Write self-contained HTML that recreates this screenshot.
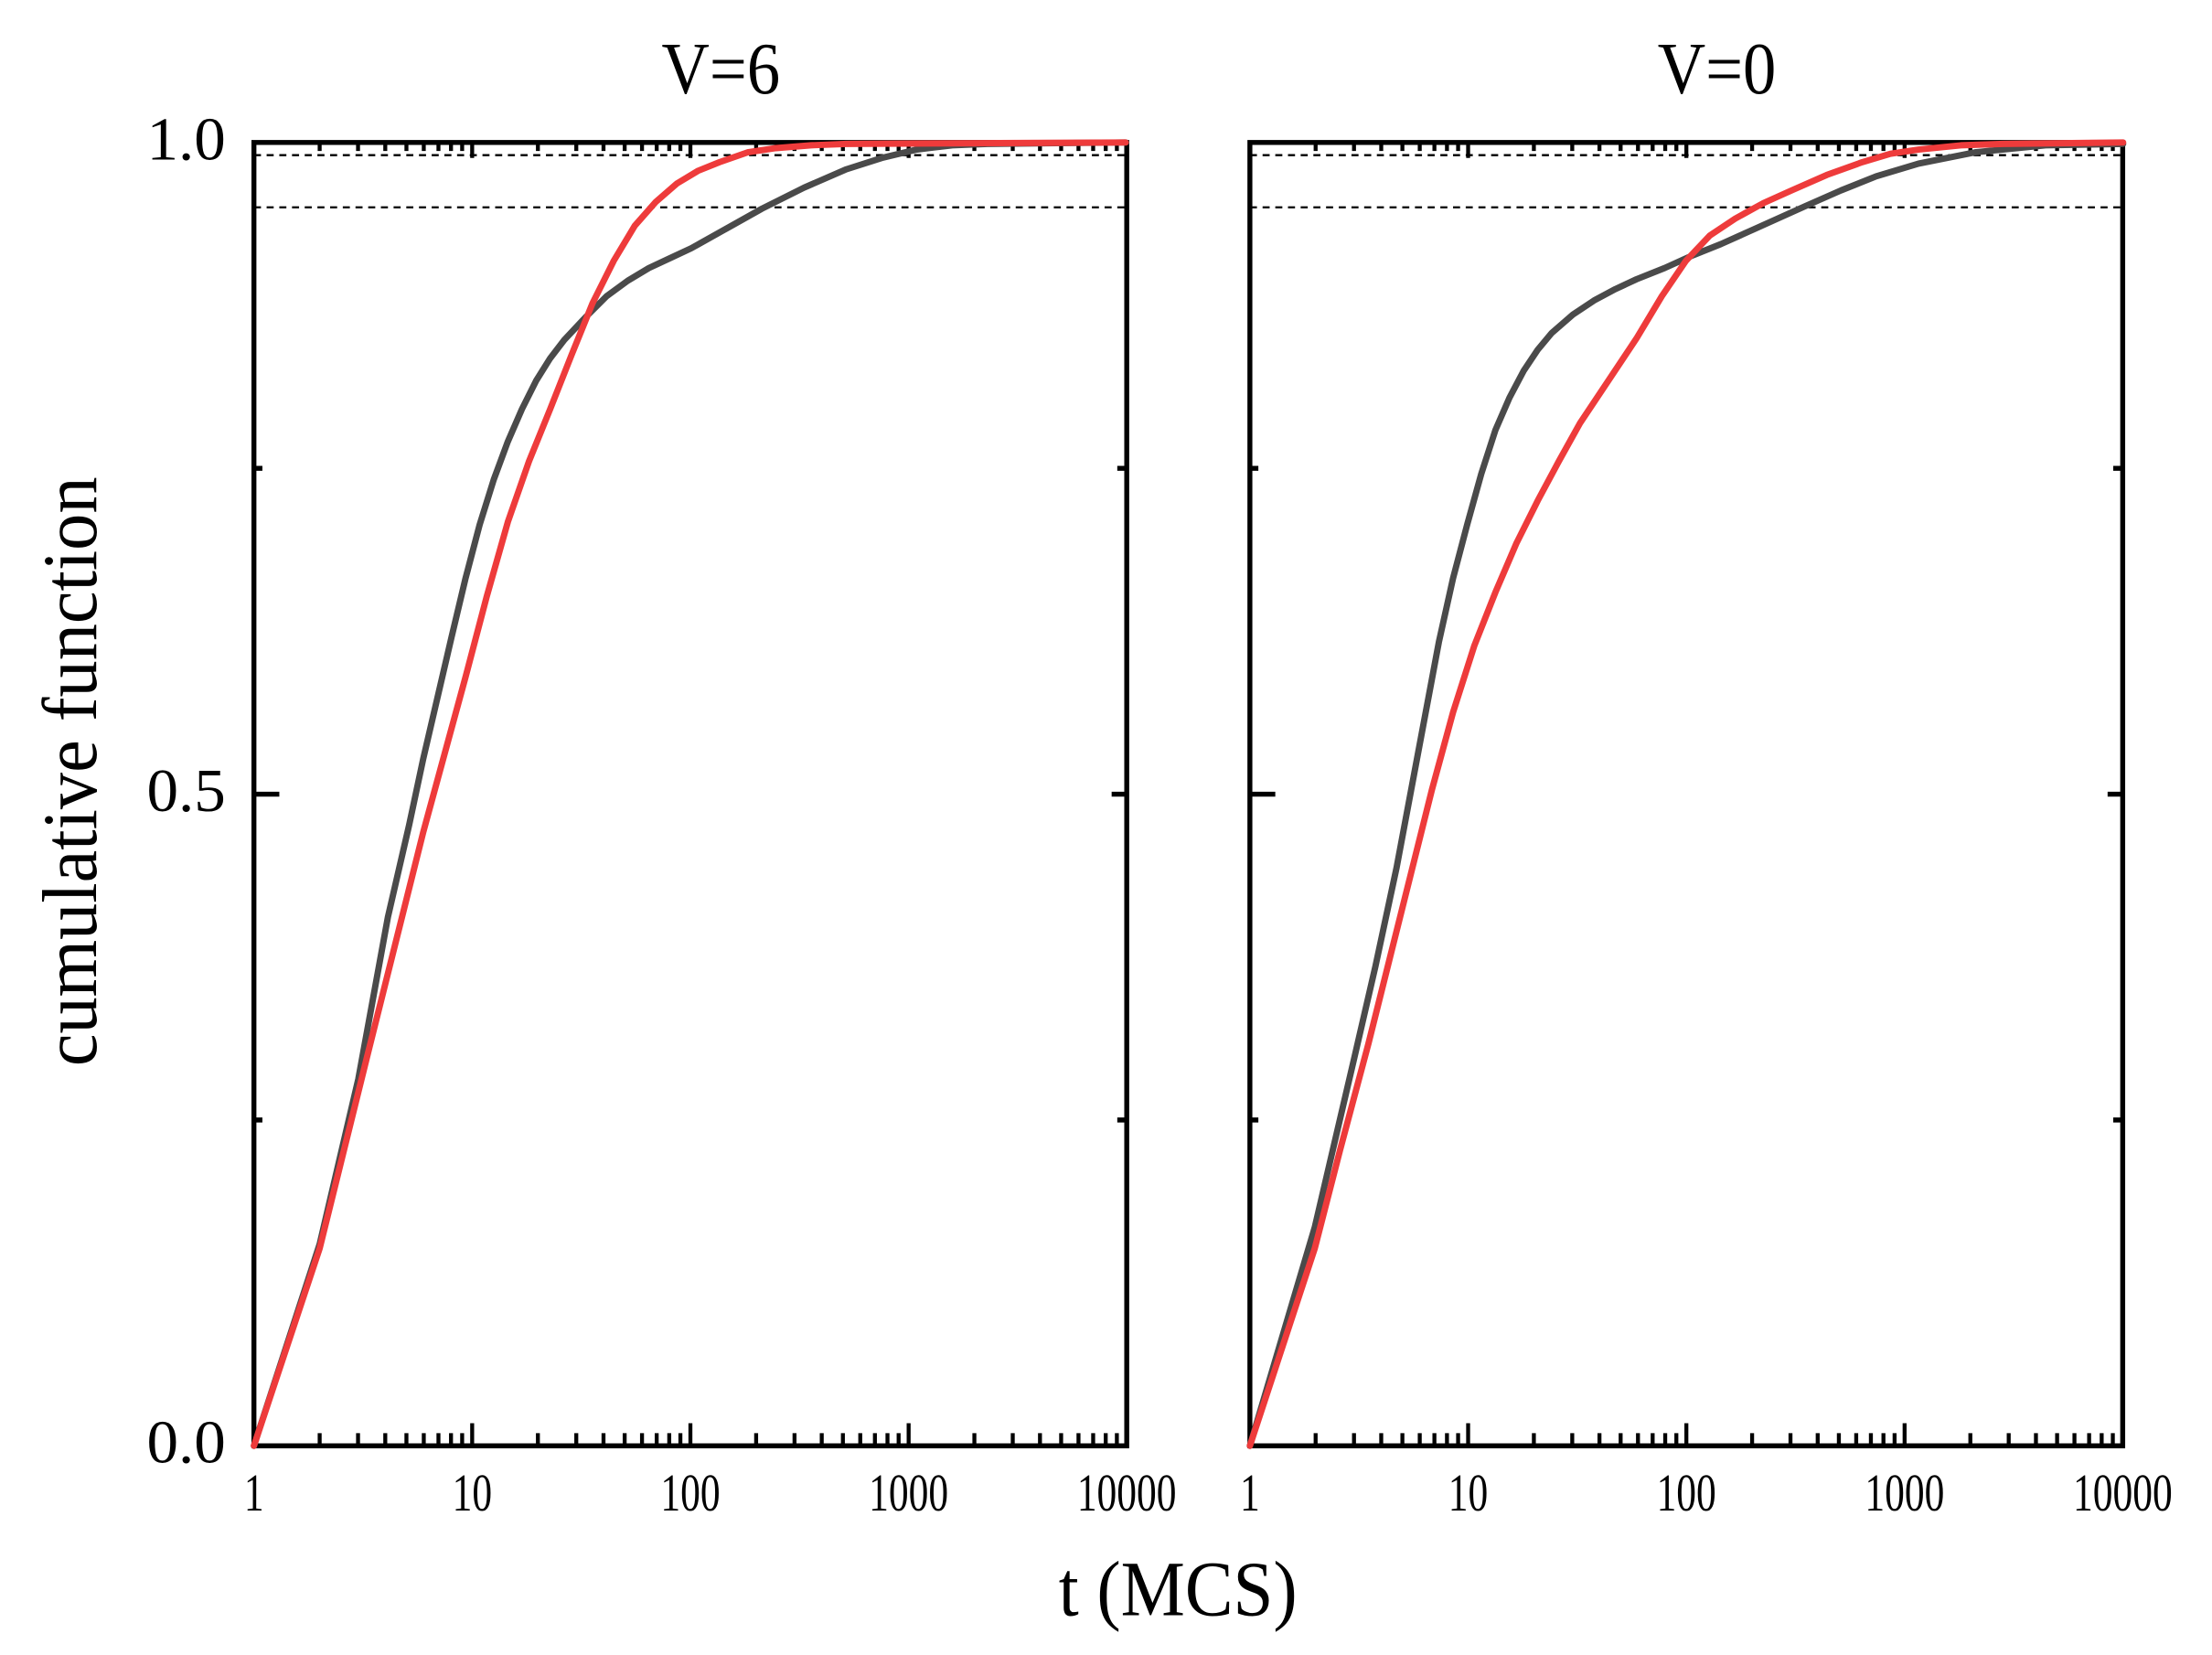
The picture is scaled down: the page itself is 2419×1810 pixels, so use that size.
<!DOCTYPE html>
<html><head><meta charset="utf-8"><style>
html,body{margin:0;padding:0;background:#fff;}
svg{display:block;}
text{font-family:"Liberation Serif",serif;fill:#000;}
</style></head><body>
<svg width="2419" height="1810" viewBox="0 0 1568 1173.3" preserveAspectRatio="none" xmlns="http://www.w3.org/2000/svg">
<defs>
<g id="frame">
  <line x1="0" y1="110" x2="618" y2="110" stroke="#000" stroke-width="1.5" stroke-dasharray="5,4"/>
  <line x1="0" y1="147" x2="618" y2="147" stroke="#000" stroke-width="1.5" stroke-dasharray="5,4"/>
  <g stroke="#000" stroke-width="2.8">
    <path d="M46.6,1025v-9M73.8,1025v-9M93.1,1025v-9M108.1,1025v-9M120.4,1025v-9M130.8,1025v-9M139.7,1025v-9M147.6,1025v-9M154.7,1025v-16
    M201.3,1025v-9M228.5,1025v-9M247.8,1025v-9M262.8,1025v-9M275.1,1025v-9M285.5,1025v-9M294.4,1025v-9M302.3,1025v-9M309.4,1025v-16
    M356,1025v-9M383.2,1025v-9M402.5,1025v-9M417.5,1025v-9M429.8,1025v-9M440.2,1025v-9M449.1,1025v-9M457,1025v-9M464.1,1025v-16
    M510.7,1025v-9M537.9,1025v-9M557.2,1025v-9M572.2,1025v-9M584.5,1025v-9M594.9,1025v-9M603.8,1025v-9M611.7,1025v-9"/>
    <path d="M46.6,101v6M73.8,101v6M93.1,101v6M108.1,101v6M120.4,101v6M130.8,101v6M139.7,101v6M147.6,101v6M154.7,101v11
    M201.3,101v6M228.5,101v6M247.8,101v6M262.8,101v6M275.1,101v6M285.5,101v6M294.4,101v6M302.3,101v6M309.4,101v11
    M356,101v6M383.2,101v6M402.5,101v6M417.5,101v6M429.8,101v6M440.2,101v6M449.1,101v6M457,101v6M464.1,101v11
    M510.7,101v6M537.9,101v6M557.2,101v6M572.2,101v6M584.5,101v6M594.9,101v6M603.8,101v6M611.7,101v6"/>
    <path d="M0,563h18M618,563h-10M0,794h6M618,794h-6M0,332h6M618,332h-6" stroke-width="3.5"/>
  </g>
  <rect x="0" y="101" width="618.7" height="924" fill="none" stroke="#000" stroke-width="3.5"/>
  <g font-size="23.5" text-anchor="middle">
    <text transform="translate(0,1071) scale(1.2,1.6)">1</text>
    <text transform="translate(154.7,1071) scale(1.2,1.6)">10</text>
    <text transform="translate(309.4,1071) scale(1.2,1.6)">100</text>
    <text transform="translate(464.1,1071) scale(1.2,1.6)">1000</text>
    <text transform="translate(618.7,1071) scale(1.2,1.6)">10000</text>
  </g>
</g>
</defs>

<g transform="translate(180,0)"><use href="#frame"/></g>
<g transform="translate(886,0)"><use href="#frame"/></g>

<g font-size="32" text-anchor="end">
  <text transform="translate(160,113) scale(1.4,1.35)">1.0</text>
  <text transform="translate(160,575) scale(1.4,1.35)">0.5</text>
  <text transform="translate(160,1037) scale(1.4,1.35)">0.0</text>
</g>
<text transform="translate(511,66) scale(1.12,1.25)" font-size="42" text-anchor="middle">V=6</text>
<text transform="translate(1217,66) scale(1.12,1.25)" font-size="42" text-anchor="middle">V=0</text>
<text transform="translate(835,1145) scale(1.19,1.3)" font-size="43" text-anchor="middle">t (MCS)</text>
<text transform="translate(68,547) rotate(-90) scale(1.24,1.3)" font-size="42" text-anchor="middle">cumulative function</text>

<g fill="none" stroke-width="4.5" stroke-linejoin="round" stroke-linecap="round">
<polyline stroke="#4a4a4a" points="180,1025 226.6,882 254,765 275,650 290,585 300,538 310,495 320,452 330,410 340,372 350,340 360,313 370,290 380,270 390,254 400,241 415,225 430,210 445,199 460,190 475,183 490,176 515,162 540,148 570,133 600,120 625,112 650,106 675,103 700,102 798,101"/>
<polyline stroke="#ee3b3b" points="180,1025 226.6,885 260,750 280,670 300,590 315,535 330,480 345,423 360,370 375,327 390,290 405,252 420,215 435,185 450,160 465,143 480,130 495,121 510,115 530,108 550,105 575,103 600,102 798,101"/>
<polyline stroke="#4a4a4a" points="886,1025 932,870 960,750 975,685 990,615 1005,535 1020,455 1030,410 1040,372 1050,336 1060,305 1070,282 1080,263 1090,248 1100,236 1115,223 1130,213 1145,205 1160,198 1180,190 1200,181 1220,173 1240,164 1260,155 1280,146 1305,135 1330,125 1360,116 1400,108 1450,103 1505,102"/>
<polyline stroke="#ee3b3b" points="886,1025 932,885 950,815 970,740 985,680 1000,620 1015,560 1030,505 1045,458 1060,420 1075,385 1090,355 1105,327 1120,300 1140,270 1160,240 1178,210 1195,185 1212,167 1230,155 1250,144 1270,135 1295,124 1320,115 1340,109 1360,106 1390,103 1420,102 1505,101"/>
</g>
</svg>
</body></html>
